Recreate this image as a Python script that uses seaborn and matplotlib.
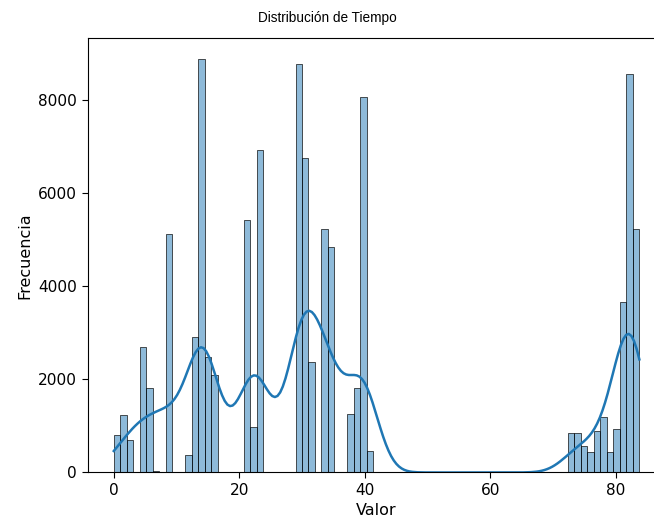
import numpy as np
import pandas as pd
import matplotlib
matplotlib.use("Agg")
import matplotlib.pyplot as plt
import seaborn as sns

# Histogram: bin index -> frequency
bin_indices = [0, 1, 2, 4, 5, 6, 8, 11, 12, 13, 14, 15, 20, 21, 22,
               28, 29, 30, 32, 33, 36, 37, 38, 39,
               70, 71, 72, 73, 74, 75, 76, 77, 78, 79, 80]
frecuencias = [800, 1230, 700, 2690, 1810, 30, 5120, 370, 2920, 8890, 2490, 2090, 5420, 970, 6920,
               8770, 6750, 2380, 5225, 4845, 1250, 1815, 8075, 470,
               840, 840, 570, 440, 900, 1200, 440, 925, 3655, 8560, 5225]
valor_min = 0.0
valor_max = 83.7
n_bins = 81

edges = np.linspace(valor_min, valor_max, n_bins + 1)
centers = (edges[:-1] + edges[1:]) / 2
valores = np.repeat(centers[bin_indices], frecuencias)
df = pd.DataFrame({"Valor": valores})

fig = plt.figure(figsize=(6.54, 5.19), dpi=100)
ax = fig.add_axes([0.1338, 0.0896, 0.884, 0.837])

sns.histplot(data=df, x="Valor", bins=edges, kde=True, ax=ax,
             kde_kws={"cut": 0.22, "bw_adjust": 0.98}, line_kws={"linewidth": 1.8})

ax.set_xlabel("Valor", fontsize=11.5)
ax.set_ylabel("Frecuencia", fontsize=11.5)
ax.tick_params(labelsize=11.1, length=4)
ax.set_xticks([0, 20, 40, 60, 80])
ax.set_yticks([0, 2000, 4000, 6000, 8000])

fig.text(0.5, 1 - 18 / 519, "Distribución de Tiempo", ha="center", va="center",
         fontsize=9.8, family=["Liberation Sans", "DejaVu Sans"])

fig.savefig("out.png", dpi=100)
